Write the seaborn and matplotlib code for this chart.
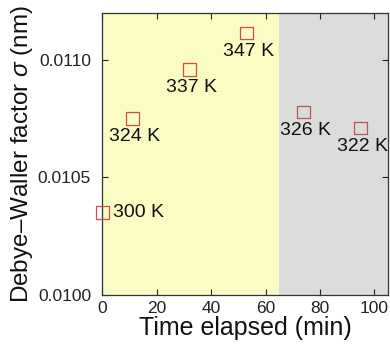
#Importing libraries
import numpy as np
import seaborn as sns
import matplotlib.pyplot as plt
import pandas as pd
from matplotlib.ticker import FormatStrFormatter

#Data
time_min = [0, 11, 32, 53, 74, 95]
sigma_nm = [0.01035, 0.010752, 0.010958, 0.011114, 0.010778, 0.010710]
temp_labels = ['300 K', '324 K', '337 K', '347 K', '326 K', '322 K']
heating_end = 65

df = pd.DataFrame({'Time': time_min, 'Sigma': sigma_nm, 'Label': temp_labels})

sns.set_style('ticks')
plt.rcParams['font.family'] = ['Liberation Sans', 'DejaVu Sans']
plt.rcParams['mathtext.fontset'] = 'custom'
plt.rcParams['mathtext.it'] = 'Liberation Sans:italic'

fig, ax = plt.subplots(figsize=(3.9, 3.47), dpi=100)
fig.subplots_adjust(left=0.262, right=0.995, bottom=0.15, top=0.963)

ax.axvspan(0, heating_end, color='#fbfcc4', lw=0, zorder=0)
ax.axvspan(heating_end, 105, color='#dadcdc', lw=0, zorder=0)

sns.scatterplot(data=df, x='Time', y='Sigma', marker='s', s=85,
                facecolor='none', edgecolor='#c8504a', linewidth=0.9,
                ax=ax, zorder=3, clip_on=False)

#Temperature labels
for t, s, lab in zip(time_min, sigma_nm, temp_labels):
    if lab == '300 K':
        ax.annotate(lab, (t, s), xytext=(8, 0), textcoords='offset points',
                    ha='left', va='center', fontsize=14, color='#111111')
    else:
        ax.annotate(lab, (t, s), xytext=(1.5, -13), textcoords='offset points',
                    ha='center', va='center', fontsize=14, color='#111111')

ax.set_xlim(0, 105)
ax.set_ylim(0.0100, 0.0112)
ax.set_xticks([0, 20, 40, 60, 80, 100])
ax.set_yticks([0.0100, 0.0105, 0.0110])
ax.yaxis.set_major_formatter(FormatStrFormatter('%.4f'))
ax.tick_params(direction='in', top=True, right=True, labelsize=12.5,
               length=4, width=0.8, colors='#222222')
ax.tick_params(axis='y', pad=8)
ax.tick_params(axis='x', pad=4)
for sp in ax.spines.values():
    sp.set_linewidth(0.9)
    sp.set_color('#333333')

ax.set_xlabel('Time elapsed (min)', fontsize=18, labelpad=0, color='#111111')
ax.set_ylabel('Debye\u2013Waller factor $\\sigma$ (nm)', fontsize=17.5,
              labelpad=2, color='#111111')

fig.savefig('out.png', dpi=100)
